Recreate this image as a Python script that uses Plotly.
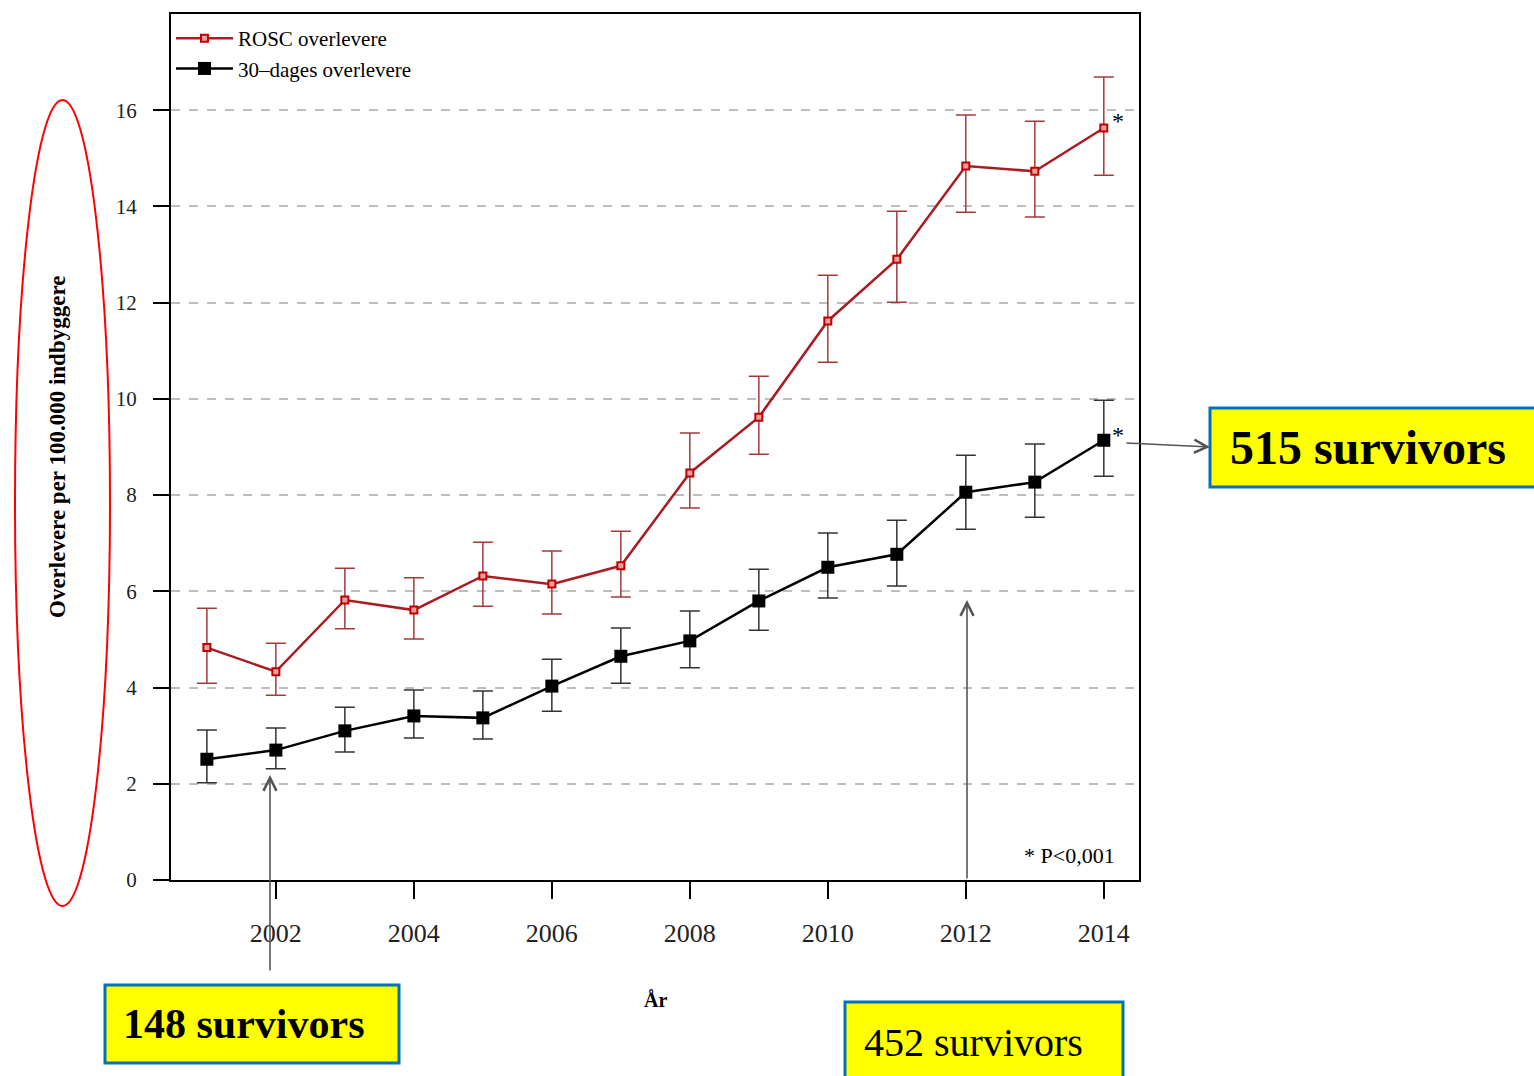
import plotly.graph_objects as go

# Survival per 100,000 inhabitants, 2001-2014
years = list(range(2001, 2015))

rosc_mean = [4.83, 4.33, 5.82, 5.61, 6.32, 6.15, 6.53, 8.46, 9.62, 11.62, 12.90, 14.84, 14.73, 15.63]
rosc_upper = [5.65, 4.92, 6.48, 6.28, 7.02, 6.84, 7.25, 9.29, 10.47, 12.57, 13.90, 15.90, 15.77, 16.69]
rosc_lower = [4.09, 3.84, 5.22, 5.01, 5.69, 5.53, 5.88, 7.73, 8.85, 10.76, 12.01, 13.88, 13.78, 14.65]

day30_mean = [2.51, 2.70, 3.10, 3.41, 3.37, 4.03, 4.65, 4.97, 5.80, 6.50, 6.77, 8.06, 8.27, 9.14]
day30_upper = [3.12, 3.16, 3.59, 3.95, 3.93, 4.59, 5.24, 5.59, 6.46, 7.21, 7.48, 8.83, 9.06, 9.97]
day30_lower = [2.02, 2.31, 2.66, 2.95, 2.93, 3.51, 4.09, 4.41, 5.19, 5.86, 6.11, 7.29, 7.54, 8.39]

x_ticks = [2002, 2004, 2006, 2008, 2010, 2012, 2014]
y_ticks = [0, 2, 4, 6, 8, 10, 12, 14, 16]

SERIF = "Liberation Serif, Times New Roman, serif"
W, H = 1534, 1076
L, R, T, B = 171, 395, 14, 196
PW, PH = W - L - R, H - T - B


def px(x):
    return (x - L) / PW


def py(y):
    return (H - B - y) / PH


RED = "#A81C22"
fig = go.Figure()

fig.add_trace(go.Scatter(
    x=years, y=rosc_mean, mode="lines+markers", name="ROSC overlevere",
    line=dict(color=RED, width=2.5),
    marker=dict(symbol="square", size=7, color="#E9A0A0", line=dict(color="#C00000", width=2)),
    error_y=dict(type="data", symmetric=False,
                 array=[u - m for u, m in zip(rosc_upper, rosc_mean)],
                 arrayminus=[m - l for m, l in zip(rosc_mean, rosc_lower)],
                 color="#A33A3A", thickness=1.5, width=10),
))

fig.add_trace(go.Scatter(
    x=years, y=day30_mean, mode="lines+markers", name="30\u2013dages overlevere",
    line=dict(color="black", width=2.5),
    marker=dict(symbol="square", size=13, color="black"),
    error_y=dict(type="data", symmetric=False,
                 array=[u - m for u, m in zip(day30_upper, day30_mean)],
                 arrayminus=[m - l for m, l in zip(day30_mean, day30_lower)],
                 color="#333333", thickness=1.5, width=10),
))

shapes = [
    # red ellipse around the y-axis title
    dict(type="circle", xref="paper", yref="paper",
         x0=px(15), x1=px(110), y0=py(906), y1=py(100),
         line=dict(color="#FF0000", width=2)),
]
annotations = []

# yellow call-out boxes
boxes = [
    ("148 survivors", 105, 399, 985, 1063, 121, 42, True),
    ("452 survivors", 845, 1123, 1002, 1090, 862, 40, False),
    ("515 survivors", 1210, 1545, 408, 487, 1228, 48, True),
]
for text, x0, x1, y0, y1, tx, fs, bold in boxes:
    shapes.append(dict(type="rect", xref="paper", yref="paper",
                       x0=px(x0), x1=px(x1), y0=py(y1), y1=py(y0),
                       fillcolor="#FFFF00", line=dict(color="#0070C0", width=3)))
    annotations.append(dict(xref="paper", yref="paper", x=px(tx), y=py((y0 + min(y1, 1082)) / 2),
                            xanchor="left", yanchor="middle", showarrow=False,
                            text=f"<b>{text}</b>" if bold else text,
                            font=dict(family=SERIF, size=fs, color="black")))

# arrows pointing from the call-outs
arrows = [
    (270, 775, 270, 972),
    (967, 600, 967, 880),
    (1210, 447, 1125, 443),
]
for hx, hy, tx, ty in arrows:
    annotations.append(dict(xref="paper", yref="paper", x=px(hx), y=py(hy),
                            ax=tx - hx, ay=ty - hy, axref="pixel", ayref="pixel",
                            text="", showarrow=True, arrowhead=5, arrowsize=1.6,
                            arrowwidth=1.6, arrowcolor="#555555"))

# significance stars and note
annotations += [
    dict(x=2014, y=rosc_mean[-1], xref="x", yref="y", text="*", showarrow=False,
         xshift=14, yshift=7, font=dict(family=SERIF, size=24, color="black")),
    dict(x=2014, y=day30_mean[-1], xref="x", yref="y", text="*", showarrow=False,
         xshift=14, yshift=5, font=dict(family=SERIF, size=24, color="black")),
    dict(xref="paper", yref="paper", x=px(1117), y=py(855), xanchor="right", yanchor="middle",
         text="* P&lt;0,001", showarrow=False, font=dict(family=SERIF, size=22, color="black")),
    dict(xref="paper", yref="paper", x=px(57), y=py(447), textangle=-90,
         text="<b>Overlevere per 100.000 indbyggere</b>", showarrow=False,
         xanchor="center", yanchor="middle", font=dict(family=SERIF, size=23, color="black")),
    dict(xref="paper", yref="paper", x=px(655), y=py(1000), text="<b>År</b>", showarrow=False,
         xanchor="center", yanchor="middle", font=dict(family=SERIF, size=20, color="black")),
]

fig.update_layout(
    width=W, height=H,
    margin=dict(l=L, r=R, t=T, b=B, pad=0),
    paper_bgcolor="white", plot_bgcolor="white",
    showlegend=True,
    legend=dict(x=0.0, y=py(18), xanchor="left", yanchor="top",
                bgcolor="rgba(0,0,0,0)", font=dict(family=SERIF, size=21, color="black"),
                itemwidth=57, tracegroupgap=0),
    shapes=shapes,
    annotations=annotations,
    font=dict(family=SERIF, color="black"),
)

fig.update_xaxes(
    range=[2000.48, 2014.51], tickvals=x_ticks, ticks="outside", ticklen=17, tickwidth=2,
    tickcolor="black", showline=True, linecolor="black", linewidth=2, mirror=True,
    showgrid=False, zeroline=False, ticklabelstandoff=12,
    tickfont=dict(family=SERIF, size=26, color="#222222"),
)
fig.update_yaxes(
    range=[0, 18], tickvals=y_ticks, ticks="outside", ticklen=16, tickwidth=2,
    tickcolor="black", showline=True, linecolor="black", linewidth=2, mirror=True,
    showgrid=True, gridcolor="#BDBDBD", gridwidth=1.5, griddash="dash", zeroline=False,
    ticklabelstandoff=12, tickfont=dict(family=SERIF, size=21, color="#222222"),
)

fig.write_html("out.html")
